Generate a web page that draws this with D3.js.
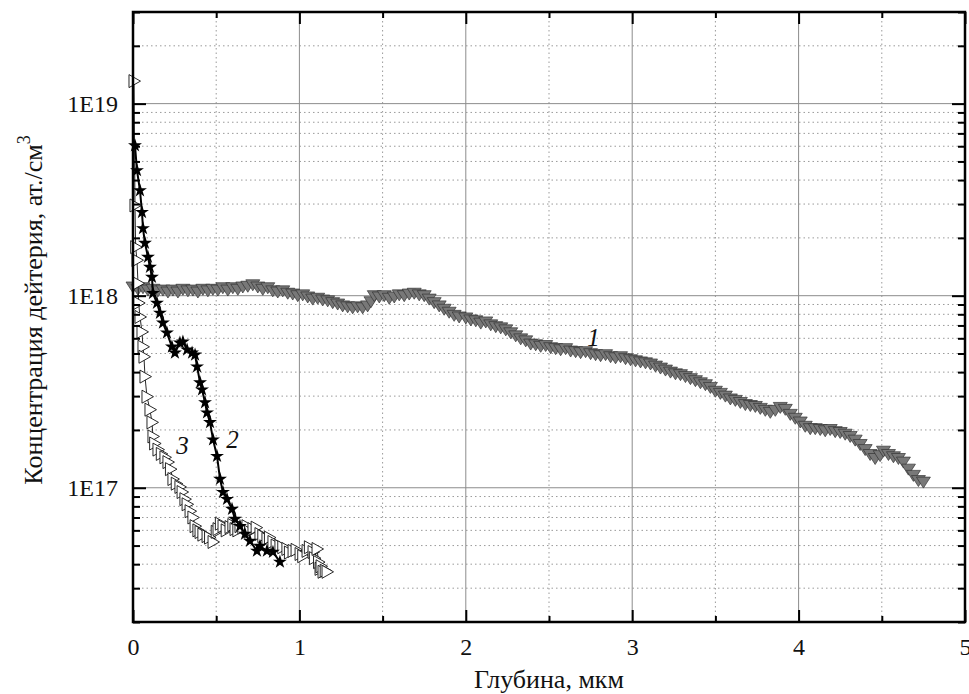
<!DOCTYPE html>
<html><head><meta charset="utf-8">
<script src="https://cdn.jsdelivr.net/npm/d3@7"></script>
<style>html,body{margin:0;padding:0;background:#fff;}svg{display:block;}</style>
</head><body>
<script>
// ---- data ----
const depth1 = [0.00,0.03,0.06,0.09,0.12,0.15,0.18,0.21,0.24,0.27,0.30,0.33,0.36,0.39,0.42,0.45,0.48,0.51,0.54,0.57,0.60,0.63,0.66,0.69,0.72,0.75,0.78,0.81,0.84,0.87,0.90,0.93,0.96,0.99,1.02,1.05,1.08,1.11,1.14,1.17,1.20,1.23,1.26,1.29,1.32,1.35,1.38,1.41,1.43,1.45,1.48,1.51,1.54,1.57,1.60,1.63,1.66,1.69,1.72,1.75,1.78,1.81,1.84,1.87,1.90,1.93,1.96,
  2.00,2.03,2.06,2.09,2.12,2.15,2.18,2.21,2.24,2.27,2.30,2.33,2.36,2.39,2.42,2.45,2.48,2.51,2.54,2.57,2.60,2.63,2.66,2.69,2.72,2.75,2.78,2.81,2.84,2.87,2.90,2.93,2.96,2.99,3.02,3.05,3.08,3.11,3.14,3.17,3.20,3.23,3.26,3.29,3.32,3.35,3.38,3.41,3.44,3.47,3.50,3.53,3.56,3.59,3.62,3.65,3.68,3.71,3.74,3.77,3.80,3.83,3.86,3.89,3.92,3.95,3.98,4.01,4.04,4.07,4.10,4.13,4.16,4.19,4.22,4.25,4.28,4.31,4.34,4.37,4.40,4.43,4.46,4.49,4.51,4.54,4.57,4.60,4.63,4.66,4.69,4.72,4.75];
const conc1 = [1.11e18,1.08e18,1.10e18,1.07e18,1.08e18,1.06e18,1.07e18,1.045e18,1.07e18,1.045e18,1.08e18,1.06e18,1.07e18,1.045e18,1.08e18,1.06e18,1.08e18,1.07e18,1.10e18,1.07e18,1.10e18,1.08e18,1.11e18,1.12e18,1.14e18,1.11e18,1.08e18,1.10e18,1.06e18,1.045e18,1.06e18,1.03e18,1.02e18,1.00e18,1.01e18,0.985e18,0.96e18,0.97e18,0.95e18,0.94e18,0.92e18,0.905e18,0.885e18,0.875e18,0.865e18,0.875e18,0.865e18,0.885e18,0.93e18,1.00e18,0.985e18,1.00e18,0.97e18,0.985e18,1.01e18,1.00e18,1.02e18,1.03e18,1.01e18,1.00e18,0.96e18,0.92e18,0.885e18,0.85e18,0.82e18,0.79e18,0.775e18,
  7.66e17,7.48e17,7.40e17,7.20e17,7.30e17,7.05e17,6.90e17,6.80e17,6.64e17,6.41e17,6.18e17,5.96e17,5.82e17,5.60e17,5.55e17,5.45e17,5.50e17,5.36e17,5.30e17,5.23e17,5.30e17,5.15e17,5.11e17,5.05e17,5.11e17,4.99e17,4.93e17,4.87e17,4.93e17,4.81e17,4.75e17,4.81e17,4.70e17,4.64e17,4.58e17,4.52e17,4.47e17,4.41e17,4.30e17,4.20e17,4.10e17,4.00e17,3.92e17,3.88e17,3.79e17,3.70e17,3.61e17,3.52e17,3.44e17,3.33e17,3.18e17,3.10e17,3.00e17,2.90e17,2.85e17,2.78e17,2.71e17,2.68e17,2.65e17,2.59e17,2.53e17,2.47e17,2.53e17,2.62e17,2.56e17,2.41e17,2.30e17,2.20e17,2.09e17,2.03e17,2.03e17,2.01e17,1.98e17,2.01e17,1.96e17,1.94e17,1.90e17,1.85e17,1.77e17,1.68e17,1.58e17,1.49e17,1.42e17,1.47e17,1.55e17,1.49e17,1.45e17,1.42e17,1.36e17,1.25e17,1.16e17,1.09e17,1.07e17];

const depth2 = [0.012,0.024,0.042,0.054,0.060,0.072,0.090,0.102,0.114,0.120,0.144,0.162,0.180,0.204,0.234,0.252,0.282,0.300,0.325,0.355,0.373,0.385,0.403,0.415,0.433,0.445,0.463,0.481,0.505,0.523,0.541,0.565,0.595,0.613,0.643,0.673,0.703,0.745,0.763,0.805,0.841,0.883];
const conc2 = [6.05e18,4.49e18,3.53e18,2.72e18,2.24e18,1.88e18,1.59e18,1.41e18,1.25e18,1.03e18,9.16e17,8.13e17,7.22e17,6.41e17,5.42e17,5.04e17,5.68e17,5.75e17,5.23e17,5.04e17,4.92e17,4.27e17,3.53e17,3.24e17,2.78e17,2.46e17,2.19e17,1.78e17,1.46e17,1.11e17,9.48e16,8.72e16,7.74e16,6.87e16,6.31e16,5.74e16,5.28e16,4.69e16,4.97e16,4.69e16,4.63e16,4.11e16];

const depth3 = [0.006,0.012,0.016,0.024,0.030,0.034,0.042,0.054,0.060,0.066,0.072,0.084,0.102,0.114,0.120,0.130,0.150,0.170,0.192,0.210,0.225,0.240,0.260,0.282,0.295,0.312,0.325,0.343,0.360,0.373,0.390,0.403,0.420,0.445,0.460,0.481,0.500,0.511,0.525,0.541,0.560,0.583,0.600,0.613,0.630,0.643,0.660,0.685,0.700,0.721,0.740,0.763,0.780,0.805,0.820,0.841,0.860,0.883,0.900,0.925,0.940,0.962,0.980,1.004,1.020,1.046,1.060,1.082,1.090,1.106,1.115,1.124,1.130,1.142,1.155,1.166];
const conc3 = [1.31e19,2.95e18,1.79e18,1.53e18,1.16e18,9.16e17,7.75e17,6.48e17,5.42e17,4.81e17,3.79e17,2.98e17,2.55e17,2.19e17,1.85e17,1.70e17,1.58e17,1.50e17,1.44e17,1.36e17,1.25e17,1.11e17,1.05e17,1.01e17,9.5e16,8.72e16,8.2e16,7.55e16,7.0e16,6.31e16,6.0e16,5.88e16,5.7e16,5.60e16,5.5e16,5.22e16,5.9e16,6.09e16,6.5e16,6.31e16,6.0e16,6.24e16,6.4e16,6.09e16,6.0e16,6.31e16,6.2e16,6.31e16,5.9e16,6.09e16,6.2e16,5.74e16,5.6e16,5.41e16,5.5e16,5.22e16,5.0e16,4.97e16,4.9e16,4.80e16,4.6e16,4.69e16,4.75e16,4.52e16,4.4e16,4.69e16,4.9e16,4.63e16,4.3e16,4.80e16,4.1e16,3.78e16,3.9e16,3.65e16,3.7e16,3.65e16];

const yMajorTicks = [1e17, 1e18, 1e19];
const yTickLabels = ["1E17", "1E18", "1E19"];
const xMajorTicks = [0, 1, 2, 3, 4, 5];
const xMinorTicks = [0.5, 1.5, 2.5, 3.5, 4.5];
const curveLabels = [
  {text: "1", x: 2.73, y: 5.45e17},
  {text: "2", x: 0.56, y: 1.62e17},
  {text: "3", x: 0.26, y: 1.50e17}
];
const xTitle = "Глубина, мкм";
const yTitle = "Концентрация дейтерия, ат./см";

// ---- layout ----
const W = 969, H = 694;
const m = {left: 133, top: 12, right: 4, bottom: 72};
const pw = W - m.left - m.right, ph = H - m.top - m.bottom;
const FONT = "'Liberation Serif','Times New Roman','DejaVu Serif',serif";

const svg = d3.select("body").append("svg").attr("width", W).attr("height", H);
const g = svg.append("g").attr("transform", `translate(${m.left},${m.top})`);

const x = d3.scaleLinear().domain([0, 5]).range([0, pw]);
const y = d3.scaleLog().domain([2e16, 3e19]).range([ph, 0]);

const yMinor = [];
for (let e = 16; e <= 19; e++) for (let k = 2; k <= 9; k++) {
  const v = k * Math.pow(10, e);
  if (v >= 2e16 && v <= 3e19) yMinor.push(v);
}

// grid
const grid = g.append("g");
grid.selectAll(".ymin").data(yMinor).join("line")
  .attr("x1", 0).attr("x2", pw).attr("y1", d => y(d)).attr("y2", d => y(d))
  .attr("stroke", "#9a9a9a").attr("stroke-width", 1).attr("stroke-dasharray", "1.5,3");
grid.selectAll(".xmin").data(xMinorTicks).join("line")
  .attr("y1", 0).attr("y2", ph).attr("x1", d => x(d)).attr("x2", d => x(d))
  .attr("stroke", "#9a9a9a").attr("stroke-width", 1).attr("stroke-dasharray", "1.5,3");
grid.selectAll(".ymaj").data(yMajorTicks).join("line")
  .attr("x1", 0).attr("x2", pw).attr("y1", d => y(d)).attr("y2", d => y(d))
  .attr("stroke", "#8c8c8c").attr("stroke-width", 1);
grid.selectAll(".xmaj").data(xMajorTicks.filter(d => d > 0 && d < 5)).join("line")
  .attr("y1", 0).attr("y2", ph).attr("x1", d => x(d)).attr("x2", d => x(d))
  .attr("stroke", "#8c8c8c").attr("stroke-width", 1);

// ---- series ----
const s1 = depth1.map((d, i) => ({x: d, y: conc1[i]}));
const s2 = depth2.map((d, i) => ({x: d, y: conc2[i]}));
const s3 = depth3.map((d, i) => ({x: d, y: conc3[i]}));
const line = d3.line().x(d => x(d.x)).y(d => y(d.y));

const plot = g.append("g");
// series 1
plot.append("path").datum(s1).attr("d", line).attr("fill", "none").attr("stroke", "#111").attr("stroke-width", 1.5);
plot.selectAll(".m1").data(s1).join("path")
  .attr("d", "M-7,-5L7,-5L0,6Z")
  .attr("transform", d => `translate(${x(d.x)},${y(d.y)})`)
  .attr("fill", "#787878").attr("stroke", "#333").attr("stroke-width", 0.7);

// series 3
plot.append("path").datum(s3).attr("d", line).attr("fill", "none").attr("stroke", "#111").attr("stroke-width", 0.9);
plot.selectAll(".m3").data(s3).join("path")
  .attr("d", "M-5,-6.5L-5,6.5L6.5,0Z")
  .attr("transform", d => `translate(${x(d.x)},${y(d.y)})`)
  .attr("fill", "#fff").attr("stroke", "#111").attr("stroke-width", 0.9);

// series 2
plot.append("path").datum(s2).attr("d", line).attr("fill", "none").attr("stroke", "#000").attr("stroke-width", 2);
plot.selectAll(".m2").data(s2).join("path")
  .attr("d", d3.symbol().type(d3.symbolStar).size(60))
  .attr("transform", d => `translate(${x(d.x)},${y(d.y)})`)
  .attr("fill", "#000");

// curve labels
g.selectAll(".cl").data(curveLabels).join("text")
  .attr("x", d => x(d.x)).attr("y", d => y(d.y))
  .attr("font-family", FONT).attr("font-style", "italic").attr("font-size", 25)
  .attr("fill", "#111").text(d => d.text);

// ---- axes ----
const axG = g.append("g");
const bA = axG.append("g").attr("transform", `translate(0,${ph})`)
  .call(d3.axisBottom(x).tickValues(xMajorTicks).tickSize(-12).tickFormat(d3.format("d")).tickPadding(16));
axG.append("g").attr("transform", `translate(0,${ph})`).call(d3.axisBottom(x).tickValues(xMinorTicks).tickSize(-6).tickFormat(""));
axG.append("g").call(d3.axisTop(x).tickValues(xMajorTicks).tickSize(-12).tickFormat(""));
axG.append("g").call(d3.axisTop(x).tickValues(xMinorTicks).tickSize(-6).tickFormat(""));

axG.append("g").call(d3.axisLeft(y).tickValues(yMajorTicks).tickSize(-13).tickFormat((d, i) => yTickLabels[i]).tickPadding(15));
axG.append("g").call(d3.axisLeft(y).tickValues(yMinor).tickSize(-7).tickFormat(""));
axG.append("g").attr("transform", `translate(${pw},0)`).call(d3.axisRight(y).tickValues(yMajorTicks).tickSize(-13).tickFormat(""));
axG.append("g").attr("transform", `translate(${pw},0)`).call(d3.axisRight(y).tickValues(yMinor).tickSize(-7).tickFormat(""));

axG.selectAll(".domain").remove();
axG.selectAll(".tick line").attr("stroke", "#000").attr("stroke-width", 2);
axG.selectAll(".tick text").attr("font-family", FONT).attr("font-size", 24).attr("fill", "#111");
bA.selectAll(".tick text").attr("dy", "0.71em");

g.append("rect").attr("x", 0).attr("y", 0).attr("width", pw).attr("height", ph)
  .attr("fill", "none").attr("stroke", "#000").attr("stroke-width", 2.5);

// ---- titles ----
svg.append("text").attr("x", m.left + pw / 2).attr("y", 688)
  .attr("text-anchor", "middle").attr("font-family", FONT).attr("font-size", 26).attr("fill", "#111")
  .text(xTitle);

const yt = svg.append("text").attr("transform", `translate(42,310) rotate(-90)`)
  .attr("text-anchor", "middle").attr("font-family", FONT).attr("font-size", 26).attr("fill", "#111");
yt.append("tspan").text(yTitle);
yt.append("tspan").attr("dy", -12).attr("font-size", 18).text("3");
</script>
</body></html>
